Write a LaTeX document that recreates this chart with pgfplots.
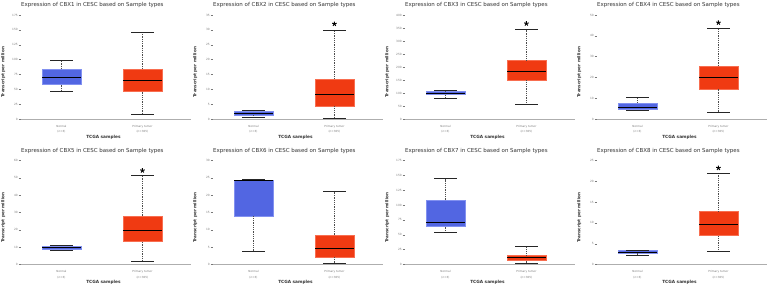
\documentclass[border=0pt]{standalone}
\usepackage{pgfplots}
\pgfplotsset{compat=1.18}
\usepackage{fontspec}
\setmainfont{DejaVu Sans}
\definecolor{nblue}{RGB}{82,102,226}
\definecolor{nblueL}{RGB}{130,145,240}
\definecolor{tred}{RGB}{240,58,18}
\definecolor{tredL}{RGB}{248,110,80}
\definecolor{tickgray}{RGB}{120,120,120}
\pgfplotsset{
  cbx/.style={
    scale only axis, width=170bp, height=104bp,
    anchor=south west,
    xmin=-0.5, xmax=1.6, ymin=0,
    axis x line*=bottom, axis y line*=left,
    x axis line style={draw=tickgray!60, line width=0.5bp, -},
    y axis line style={draw=none, -},
    xtick={0,1}, xticklabels={{Normal\\(n=3)},{Primary tumor\\(n=305)}},
    x tick style={draw=none},
    y tick style={draw=tickgray, line width=0.4bp},
    major tick length=2.3bp, tick align=outside,
    xticklabel style={align=center, font=\fontsize{2.8}{5.2}\selectfont, text=tickgray, yshift=-0.5bp},
    yticklabel style={font=\fontsize{2.9}{3.5}\selectfont, text=tickgray, inner sep=0.8bp},
    /pgf/number format/assume math mode=true,
    title style={font=\fontsize{5.5}{6.5}\selectfont, text=black!80, at={(axis description cs:0.42,1)}, anchor=south, inner sep=0pt, yshift=0.8bp},
    ylabel={Transcript per million},
    ylabel style={font=\fontsize{4.2}{5}\selectfont\bfseries, text=black!80, at={(axis description cs:-0.105,0.45)}, anchor=center},
    xlabel={TCGA samples},
    xlabel style={font=\fontsize{4.3}{5}\selectfont\bfseries, text=black!80, at={(axis description cs:0.485,0)}, anchor=center, yshift=-18bp},
    clip=false, unbounded coords=jump,
  },
  nbox/.style={fill=nblue, draw=nblueL, line width=0.6bp, mark=none},
  tbox/.style={fill=tred, draw=tredL, line width=0.6bp, mark=none},
  med/.style={draw=black, line width=1bp, mark=none},
  whisk/.style={draw=black!70, line width=0.45bp, dash pattern=on 1bp off 0.8bp, mark=none},
  cap/.style={draw=black!85, line width=0.6bp, mark=none},
  star/.style={only marks, mark=star, mark size=2.4bp, mark options={draw=black, line width=0.9bp}},
}
\begin{document}
\begin{tikzpicture}
\useasboundingbox (0,0) rectangle (767bp,-286bp);
% ---------- CBX1 ----------
\begin{axis}[cbx, at={(21bp,-119bp)}, title={Expression of CBX1 in CESC based on Sample types},
  ymax=175, ytick={0,25,50,75,100,125,150,175}]
\addplot[nbox] coordinates {(-0.24,58) (0.24,58) (0.24,84) (-0.24,84)} -- cycle;
\addplot[tbox] coordinates {(0.76,46.5) (1.24,46.5) (1.24,84) (0.76,84)} -- cycle;
\addplot[med] coordinates {(-0.24,70) (0.24,70) (0,nan) (0.76,65.5) (1.24,65.5)};
\addplot[whisk] coordinates {(0,47) (0,58) (0,nan) (0,84) (0,99) (0,nan) (1,8) (1,46.5) (1,nan) (1,84) (1,146)};
\addplot[cap] coordinates {(-0.14,47) (0.14,47) (0,nan) (-0.14,99) (0.14,99) (0,nan) (0.86,8) (1.14,8) (0,nan) (0.86,146) (1.14,146)};
\end{axis}
% ---------- CBX2 ----------
\begin{axis}[cbx, at={(213bp,-119bp)}, title={Expression of CBX2 in CESC based on Sample types},
  ymax=35, ytick={0,5,10,15,20,25,30,35}]
\addplot[nbox] coordinates {(-0.24,1.3) (0.24,1.3) (0.24,2.6) (-0.24,2.6)} -- cycle;
\addplot[tbox] coordinates {(0.76,4.25) (1.24,4.25) (1.24,13.5) (0.76,13.5)} -- cycle;
\addplot[med] coordinates {(-0.24,2.0) (0.24,2.0) (0,nan) (0.76,8.2) (1.24,8.2)};
\addplot[whisk] coordinates {(0,0.45) (0,1.3) (0,nan) (0,2.6) (0,3.0) (0,nan) (1,0.3) (1,4.25) (1,nan) (1,13.5) (1,30)};
\addplot[cap] coordinates {(-0.14,0.45) (0.14,0.45) (0,nan) (-0.14,3.0) (0.14,3.0) (0,nan) (0.86,0.3) (1.14,0.3) (0,nan) (0.86,30) (1.14,30)};
\addplot[star] coordinates {(1,32)};
\end{axis}
% ---------- CBX3 ----------
\begin{axis}[cbx, at={(405bp,-119bp)}, title={Expression of CBX3 in CESC based on Sample types},
  ymax=400, ytick={0,50,100,150,200,250,300,350,400}]
\addplot[nbox] coordinates {(-0.24,94) (0.24,94) (0.24,105) (-0.24,105)} -- cycle;
\addplot[tbox] coordinates {(0.76,149) (1.24,149) (1.24,225) (0.76,225)} -- cycle;
\addplot[med] coordinates {(-0.24,100) (0.24,100) (0,nan) (0.76,184) (1.24,184)};
\addplot[whisk] coordinates {(0,81) (0,94) (0,nan) (0,105) (0,110) (0,nan) (1,55) (1,149) (1,nan) (1,225) (1,344)};
\addplot[cap] coordinates {(-0.14,81) (0.14,81) (0,nan) (-0.14,110) (0.14,110) (0,nan) (0.86,55) (1.14,55) (0,nan) (0.86,344) (1.14,344)};
\addplot[star] coordinates {(1,367)};
\end{axis}
% ---------- CBX4 ----------
\begin{axis}[cbx, at={(597bp,-119bp)}, title={Expression of CBX4 in CESC based on Sample types},
  ymax=50, ytick={0,10,20,30,40,50}]
\addplot[nbox] coordinates {(-0.24,4.5) (0.24,4.5) (0.24,7.7) (-0.24,7.7)} -- cycle;
\addplot[tbox] coordinates {(0.76,14.5) (1.24,14.5) (1.24,25.4) (0.76,25.4)} -- cycle;
\addplot[med] coordinates {(-0.24,5.3) (0.24,5.3) (0,nan) (0.76,19.8) (1.24,19.8)};
\addplot[whisk] coordinates {(0,4.0) (0,4.5) (0,nan) (0,7.7) (0,10.5) (0,nan) (1,3.2) (1,14.5) (1,nan) (1,25.4) (1,43.5)};
\addplot[cap] coordinates {(-0.14,4.0) (0.14,4.0) (0,nan) (-0.14,10.5) (0.14,10.5) (0,nan) (0.86,3.2) (1.14,3.2) (0,nan) (0.86,43.5) (1.14,43.5)};
\addplot[star] coordinates {(1,46.3)};
\end{axis}
% ---------- CBX5 ----------
\begin{axis}[cbx, at={(21bp,-264.5bp)}, title={Expression of CBX5 in CESC based on Sample types},
  ymax=60, ytick={0,10,20,30,40,50,60}]
\addplot[nbox] coordinates {(-0.24,8.5) (0.24,8.5) (0.24,10.6) (-0.24,10.6)} -- cycle;
\addplot[tbox] coordinates {(0.76,13.2) (1.24,13.2) (1.24,27.8) (0.76,27.8)} -- cycle;
\addplot[med] coordinates {(-0.24,9.6) (0.24,9.6) (0,nan) (0.76,19.7) (1.24,19.7)};
\addplot[whisk] coordinates {(0,8.0) (0,8.5) (0,nan) (0,10.6) (0,11.1) (0,nan) (1,2.1) (1,13.2) (1,nan) (1,27.8) (1,51.3)};
\addplot[cap] coordinates {(-0.14,8.0) (0.14,8.0) (0,nan) (-0.14,11.1) (0.14,11.1) (0,nan) (0.86,2.1) (1.14,2.1) (0,nan) (0.86,51.3) (1.14,51.3)};
\addplot[star] coordinates {(1,54.2)};
\end{axis}
% ---------- CBX6 ----------
\begin{axis}[cbx, at={(213bp,-264.5bp)}, title={Expression of CBX6 in CESC based on Sample types},
  ymax=30, ytick={0,5,10,15,20,25,30}]
\addplot[nbox] coordinates {(-0.24,14.0) (0.24,14.0) (0.24,24.4) (-0.24,24.4)} -- cycle;
\addplot[tbox] coordinates {(0.76,2.1) (1.24,2.1) (1.24,8.4) (0.76,8.4)} -- cycle;
\addplot[med] coordinates {(-0.24,24.2) (0.24,24.2) (0,nan) (0.76,4.5) (1.24,4.5)};
\addplot[whisk] coordinates {(0,3.8) (0,14.0) (0,nan) (0,24.4) (0,24.6) (0,nan) (1,0.3) (1,2.1) (1,nan) (1,8.4) (1,21.0)};
\addplot[cap] coordinates {(-0.14,3.8) (0.14,3.8) (0,nan) (-0.14,24.6) (0.14,24.6) (0,nan) (0.86,0.3) (1.14,0.3) (0,nan) (0.86,21.0) (1.14,21.0)};
\end{axis}
% ---------- CBX7 ----------
\begin{axis}[cbx, at={(405bp,-264.5bp)}, title={Expression of CBX7 in CESC based on Sample types},
  ymax=175, ytick={0,25,50,75,100,125,150,175}]
\addplot[nbox] coordinates {(-0.24,63.5) (0.24,63.5) (0.24,108) (-0.24,108)} -- cycle;
\addplot[tbox] coordinates {(0.76,6.7) (1.24,6.7) (1.24,15.1) (0.76,15.1)} -- cycle;
\addplot[med] coordinates {(-0.24,71) (0.24,71) (0,nan) (0.76,11.2) (1.24,11.2)};
\addplot[whisk] coordinates {(0,53.4) (0,63.5) (0,nan) (0,108) (0,144.7) (0,nan) (1,1.7) (1,6.7) (1,nan) (1,15.1) (1,31.3)};
\addplot[cap] coordinates {(-0.14,53.4) (0.14,53.4) (0,nan) (-0.14,144.7) (0.14,144.7) (0,nan) (0.86,1.7) (1.14,1.7) (0,nan) (0.86,31.3) (1.14,31.3)};
\end{axis}
% ---------- CBX8 ----------
\begin{axis}[cbx, at={(597bp,-264.5bp)}, title={Expression of CBX8 in CESC based on Sample types},
  ymax=25, ytick={0,5,10,15,20,25}]
\addplot[nbox] coordinates {(-0.24,2.8) (0.24,2.8) (0.24,3.35) (-0.24,3.35)} -- cycle;
\addplot[tbox] coordinates {(0.76,6.9) (1.24,6.9) (1.24,12.7) (0.76,12.7)} -- cycle;
\addplot[med] coordinates {(-0.24,3.0) (0.24,3.0) (0,nan) (0.76,9.6) (1.24,9.6)};
\addplot[whisk] coordinates {(0,2.2) (0,2.8) (0,nan) (0,3.35) (0,3.4) (0,nan) (1,3.1) (1,6.9) (1,nan) (1,12.7) (1,22.0)};
\addplot[cap] coordinates {(-0.14,2.2) (0.14,2.2) (0,nan) (-0.14,3.4) (0.14,3.4) (0,nan) (0.86,3.1) (1.14,3.1) (0,nan) (0.86,22.0) (1.14,22.0)};
\addplot[star] coordinates {(1,23.2)};
\end{axis}
\end{tikzpicture}
\end{document}
